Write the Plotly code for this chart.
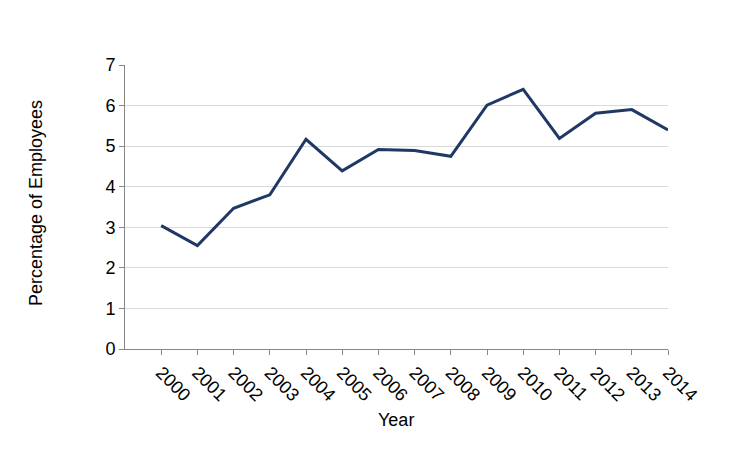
import plotly.graph_objects as go

years = ["2000", "2001", "2002", "2003", "2004", "2005", "2006", "2007",
         "2008", "2009", "2010", "2011", "2012", "2013", "2014"]
pct = [3.04, 2.55, 3.47, 3.80, 5.17, 4.39, 4.92, 4.89, 4.75, 6.01, 6.40,
       5.19, 5.81, 5.90, 5.40]

xpos = list(range(len(years)))

# page has an 8px body margin; target plot area in window pixels: x 125..668, y 65..349
OFF = 8
W, H = 751 - OFF, 469 - OFF
l, t = 125 - OFF, 65 - OFF
r = W - (668 - OFF)
b = H - (349 - OFF)
pw, ph = W - l - r, H - t - b

font = dict(family="Liberation Sans, Arial, sans-serif", size=18, color="#000000")

fig = go.Figure()
fig.add_trace(go.Scatter(
    x=xpos, y=pct, mode="lines",
    line=dict(color="#1F3864", width=3),
    showlegend=False, hoverinfo="skip"))


def ann(text, px, py, angle=0):
    return dict(text=text, x=(px - 125) / pw, y=1 - (py - 65) / ph,
                xref="paper", yref="paper", xanchor="center", yanchor="middle",
                showarrow=False, textangle=angle, font=font)


fig.update_layout(
    width=W, height=H,
    margin=dict(l=l, r=r, t=t, b=b),
    paper_bgcolor="white", plot_bgcolor="white",
    font=font,
    xaxis=dict(
        range=[-1, 14], tickmode="array", tickvals=xpos, ticktext=years,
        tickangle=45, ticks="outside", ticklen=5, tickcolor="#868686",
        showline=True, linecolor="#868686", linewidth=1,
        showgrid=False, zeroline=False, tickfont=font),
    yaxis=dict(
        range=[0, 7], dtick=1, ticks="outside", ticklen=5, tickcolor="#868686",
        showline=True, linecolor="#868686", linewidth=1,
        showgrid=True, gridcolor="#D9D9D9", gridwidth=1,
        zeroline=False, tickfont=font),
    annotations=[
        ann("Percentage of Employees", 36, 203, -90),
        ann("Year", 396, 420),
    ],
)

fig.write_html("out.html")
